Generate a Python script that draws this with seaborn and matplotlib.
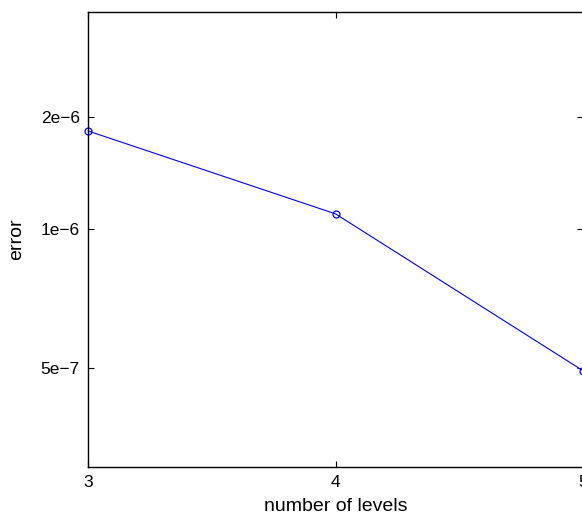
import numpy as np
import pandas as pd
import matplotlib
matplotlib.use("Agg")
import matplotlib.pyplot as plt
import seaborn as sns

levels = [3, 4, 5]
error = [1.63e-6, 1.078e-6, 4.93e-7]
ytick_vals = [5e-7, 1e-6, 1.75e-6]
ytick_labels = ["5e\u22127", "1e\u22126", "2e\u22126"]
xtick_vals = [3, 4, 5]

sns.set_theme(style="white")
plt.rcParams["font.family"] = ["Liberation Sans", "DejaVu Sans"]

df = pd.DataFrame({"levels": levels, "error": error})

fig = plt.figure(figsize=(5.82, 5.17), dpi=100)
ax = fig.add_axes([88 / 582, 50 / 517, (583 - 88) / 582, 455 / 517])

sns.lineplot(data=df, x="levels", y="error", ax=ax, color="#0000ff",
             linewidth=0.8, marker="o", markersize=5,
             markerfacecolor="none", markeredgecolor="#0000ff",
             markeredgewidth=0.9, clip_on=False)

ax.set_yscale("log")
ax.set_xlim(3, 5)
ax.set_ylim(3.05e-7, 2.95e-6)
ax.set_xticks(xtick_vals)
ax.set_xticklabels([str(v) for v in xtick_vals])
ax.set_yticks(ytick_vals)
ax.set_yticklabels(ytick_labels)
ax.yaxis.set_minor_locator(matplotlib.ticker.NullLocator())

ax.tick_params(direction="in", length=4.5, width=0.8, color="black",
               labelsize=12.5, labelcolor="black", pad=6,
               top=True, right=True, bottom=True, left=True)
for s in ax.spines.values():
    s.set_color("black")
    s.set_linewidth(1.0)

ax.set_xlabel("number of levels", fontsize=14, color="black")
ax.set_ylabel("error", fontsize=14, color="black")
ax.xaxis.set_label_coords(0.5, -31 / 455)
ax.yaxis.set_label_coords(-63 / 495, 0.5)

fig.savefig("out.png", dpi=100)
